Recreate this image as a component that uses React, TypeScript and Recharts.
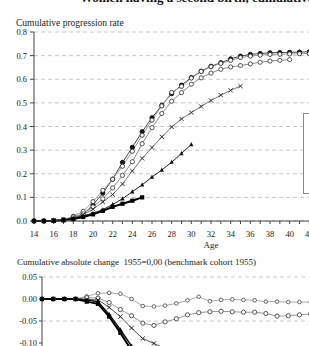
import React from 'react';
import { LineChart, Line, XAxis, YAxis, CartesianGrid, Legend } from 'recharts';

// ages on the x axis (tick every year, label every second year)
const ages = [14, 15, 16, 17, 18, 19, 20, 21, 22, 23, 24, 25, 26, 27, 28, 29, 30, 31, 32, 33, 34, 35, 36, 37, 38, 39, 40, 41, 42, 43, 44, 45, 46, 47, 48, 49, 50];
const ageTicks = [14, 15, 16, 17, 18, 19, 20, 21, 22, 23, 24, 25, 26, 27, 28, 29, 30, 31, 32, 33, 34, 35, 36, 37, 38, 39, 40, 41, 42];
const rateTicks = [0, 0.1, 0.2, 0.3, 0.4, 0.5, 0.6, 0.7, 0.8];
const changeTicks = [-0.1, -0.05, 0, 0.05];

const cohorts = ['1955', '1960', '1965', '1970', '1975', '1980'];

// cumulative progression rate by age, one array per birth cohort
const rate1955 = [0, 0, 0.002, 0.005, 0.014, 0.028, 0.068, 0.118, 0.177, 0.248, 0.312, 0.378, 0.437, 0.49, 0.539, 0.575, 0.607, 0.634, 0.655, 0.67, 0.686, 0.698, 0.705, 0.709, 0.712, 0.713, 0.714, 0.715, 0.716, 0.716, 0.717, 0.717];
const rate1960 = [0, 0, 0.002, 0.005, 0.02, 0.041, 0.082, 0.13, 0.177, 0.232, 0.295, 0.363, 0.427, 0.487, 0.544, 0.57, 0.605, 0.633, 0.653, 0.667, 0.68, 0.692, 0.698, 0.702, 0.705, 0.706, 0.707, 0.708, 0.709, 0.709, 0.71, 0.71];
const rate1965 = [0, 0, 0.002, 0.005, 0.017, 0.03, 0.06, 0.094, 0.14, 0.193, 0.251, 0.327, 0.395, 0.455, 0.507, 0.543, 0.579, 0.606, 0.626, 0.642, 0.652, 0.658, 0.665, 0.672, 0.677, 0.68, 0.683];
const rate1970 = [0, 0, 0.002, 0.005, 0.013, 0.027, 0.05, 0.08, 0.112, 0.157, 0.212, 0.265, 0.311, 0.356, 0.398, 0.432, 0.459, 0.485, 0.51, 0.533, 0.553, 0.571];
const rate1975 = [0, 0, 0.001, 0.004, 0.012, 0.022, 0.033, 0.048, 0.07, 0.094, 0.124, 0.153, 0.186, 0.216, 0.249, 0.286, 0.324];
const rate1980 = [0, 0, 0.001, 0.003, 0.008, 0.017, 0.028, 0.043, 0.06, 0.073, 0.086, 0.1];

// cumulative absolute change against the 1955 cohort
const change1960 = [0, 0, 0, 0, 0.006, 0.013, 0.014, 0.012, 0, -0.016, -0.017, -0.015, -0.01, -0.003, 0.005, -0.005, -0.002, -0.001, -0.002, -0.003, -0.006, -0.006, -0.007, -0.007, -0.007, -0.007, -0.007, -0.007, -0.007, -0.007, -0.007, -0.007];
const change1965 = [0, 0, 0, 0, 0.003, 0.002, -0.008, -0.024, -0.038, -0.055, -0.06, -0.052, -0.045, -0.036, -0.031, -0.029, -0.028, -0.029, -0.03, -0.03, -0.033, -0.039, -0.038, -0.036, -0.034, -0.033, -0.031];
const change1970 = [0, 0, 0, 0, -0.001, -0.002, -0.019, -0.04, -0.066, -0.09, -0.101, -0.113, -0.126, -0.134, -0.141, -0.143, -0.148, -0.149, -0.145, -0.137, -0.133, -0.127];
const change1975 = [0, 0, 0, 0, -0.002, -0.006, -0.035, -0.07, -0.107, -0.154, -0.188, -0.225, -0.251, -0.274, -0.29, -0.289, -0.283];
const change1980 = [0, 0, 0, 0, -0.006, -0.011, -0.04, -0.077, -0.117, -0.175, -0.226, -0.278];

const rateData = ages.map((age, i) => ({
  age,
  c1955: rate1955[i] ?? null,
  c1960: rate1960[i] ?? null,
  c1965: rate1965[i] ?? null,
  c1970: rate1970[i] ?? null,
  c1975: rate1975[i] ?? null,
  c1980: rate1980[i] ?? null,
}));

const changeData = ages.map((age, i) => ({
  age,
  c1960: change1960[i] ?? null,
  c1965: change1965[i] ?? null,
  c1970: change1970[i] ?? null,
  c1975: change1975[i] ?? null,
  c1980: change1980[i] ?? null,
}));

const FONT = '"Liberation Serif", "Times New Roman", serif';

type Marker = 'dot' | 'ring' | 'cross' | 'triangle' | 'square';

const marker = (kind: Marker, color: string, r = 2.1) => (props: any) => {
  const { cx, cy, index } = props;
  if (cx == null || cy == null || props.value == null) return <g key={`m-${index}`} />;
  switch (kind) {
    case 'dot':
      return <circle key={`m-${index}`} cx={cx} cy={cy} r={r} fill={color} stroke={color} />;
    case 'ring':
      return <circle key={`m-${index}`} cx={cx} cy={cy} r={r} fill="#fff" stroke={color} strokeWidth={0.9} />;
    case 'cross':
      return (
        <path
          key={`m-${index}`}
          d={`M${cx - r},${cy - r}L${cx + r},${cy + r}M${cx + r},${cy - r}L${cx - r},${cy + r}`}
          stroke={color}
          strokeWidth={1}
        />
      );
    case 'triangle':
      return (
        <polygon
          key={`m-${index}`}
          points={`${cx},${cy - r - 0.4} ${cx + r},${cy + r - 0.4} ${cx - r},${cy + r - 0.4}`}
          fill={color}
        />
      );
    default:
      return <rect key={`m-${index}`} x={cx - r} y={cy - r} width={r * 2} height={r * 2} fill={color} />;
  }
};

const rateStyles: Record<string, { stroke: string; width: number; kind: Marker; mark: string }> = {
  c1955: { stroke: '#444', width: 1, kind: 'dot', mark: '#111' },
  c1960: { stroke: '#999', width: 1, kind: 'ring', mark: '#333' },
  c1965: { stroke: '#888', width: 1, kind: 'ring', mark: '#444' },
  c1970: { stroke: '#777', width: 1, kind: 'cross', mark: '#333' },
  c1975: { stroke: '#222', width: 1, kind: 'triangle', mark: '#111' },
  c1980: { stroke: '#000', width: 2, kind: 'square', mark: '#000' },
};

const changeStyles: Record<string, { stroke: string; width: number; kind: Marker; mark: string }> = {
  c1960: { stroke: '#aaa', width: 1, kind: 'ring', mark: '#555' },
  c1965: { stroke: '#999', width: 1, kind: 'ring', mark: '#444' },
  c1970: { stroke: '#555', width: 1, kind: 'cross', mark: '#222' },
  c1975: { stroke: '#111', width: 1.5, kind: 'triangle', mark: '#000' },
  c1980: { stroke: '#000', width: 2, kind: 'square', mark: '#000' },
};

const tickStyle = { fontFamily: FONT, fontSize: 8.5, fill: '#222' };
const ageLabel = (v: number) => (v % 2 === 0 ? String(v) : '');

// the legend box is cut by the right edge of the picture; only its frame shows
function CohortLegend() {
  return <div aria-label={`cohorts ${cohorts.join(', ')}`} style={{ width: '100%', height: '100%' }} />;
}

export default function App() {
  return (
    <div style={{ position: 'absolute', left: 0, top: 0, width: 309, height: 346, overflow: 'hidden', background: '#fff' }}>
      <div style={{ position: 'absolute', left: 80, top: -9, fontFamily: FONT, fontWeight: 'bold', fontSize: 13, lineHeight: '13px', whiteSpace: 'nowrap', color: '#111' }}>
        Women having a second birth, cumulative a
      </div>
      <div style={{ position: 'absolute', left: 16, top: 18, fontFamily: FONT, fontSize: 9.5, lineHeight: '10px', whiteSpace: 'nowrap', color: '#222' }}>
        Cumulative progression rate
      </div>

      <div style={{ position: 'absolute', left: 0, top: 0 }}>
        <LineChart width={400} height={260} data={rateData} margin={{ top: 32, right: 12, bottom: 9, left: 0 }}>
          <CartesianGrid vertical={false} stroke="#c8c8c8" strokeDasharray="4 3" />
          <XAxis
            dataKey="age"
            type="number"
            domain={[14, 50]}
            ticks={ageTicks}
            interval={0}
            tickFormatter={ageLabel}
            height={30}
            tickSize={3}
            tickMargin={7}
            stroke="#444"
            tick={tickStyle}
            label={{ value: 'Age', position: 'insideBottom', offset: 3, style: { fontFamily: FONT, fontSize: 9, fill: '#222' } }}
          />
          <YAxis
            type="number"
            domain={[0, 0.8]}
            ticks={rateTicks}
            width={34}
            tickSize={4}
            tickMargin={3}
            stroke="#444"
            tick={tickStyle}
            tickFormatter={(v: number) => v.toFixed(1)}
          />
          <Legend
            layout="vertical"
            align="center"
            verticalAlign="middle"
            content={<CohortLegend />}
            wrapperStyle={{ position: 'absolute', left: 303, top: 113, width: 80, height: 81, border: '1px solid #888', background: '#fff', boxSizing: 'border-box' }}
          />
          {Object.keys(rateStyles).map((key) => {
            const s = rateStyles[key];
            return (
              <Line
                key={key}
                dataKey={key}
                name={key.slice(1)}
                type="linear"
                stroke={s.stroke}
                strokeWidth={s.width}
                dot={marker(s.kind, s.mark)}
                activeDot={false}
                isAnimationActive={false}
              />
            );
          })}
        </LineChart>
      </div>

      <div style={{ position: 'absolute', left: 17, top: 257.5, fontFamily: FONT, fontSize: 9, lineHeight: '9px', whiteSpace: 'pre', color: '#222' }}>
        {'Cumulative absolute change  1955=0,00 (benchmark cohort 1955)'}
      </div>

      <div style={{ position: 'absolute', left: 0, top: 250 }}>
        <LineChart width={460} height={221} data={changeData} margin={{ top: 27, right: 15, bottom: 10, left: 0 }}>
          <CartesianGrid vertical={false} stroke="#c8c8c8" strokeDasharray="4 3" />
          <XAxis dataKey="age" type="number" domain={[14, 50]} ticks={ageTicks} tick={false} height={30} tickSize={3} stroke="#444" />
          <YAxis
            type="number"
            domain={[-0.3, 0.05]}
            ticks={changeTicks}
            width={42}
            tickSize={3}
            tickMargin={2}
            stroke="#444"
            tick={tickStyle}
            tickFormatter={(v: number) => v.toFixed(2)}
          />
          {Object.keys(changeStyles).map((key) => {
            const s = changeStyles[key];
            return (
              <Line
                key={key}
                dataKey={key}
                name={key.slice(1)}
                type="linear"
                stroke={s.stroke}
                strokeWidth={s.width}
                dot={marker(s.kind, s.mark, key === 'c1960' ? 1.8 : 2.1)}
                activeDot={false}
                isAnimationActive={false}
              />
            );
          })}
        </LineChart>
      </div>
    </div>
  );
}
